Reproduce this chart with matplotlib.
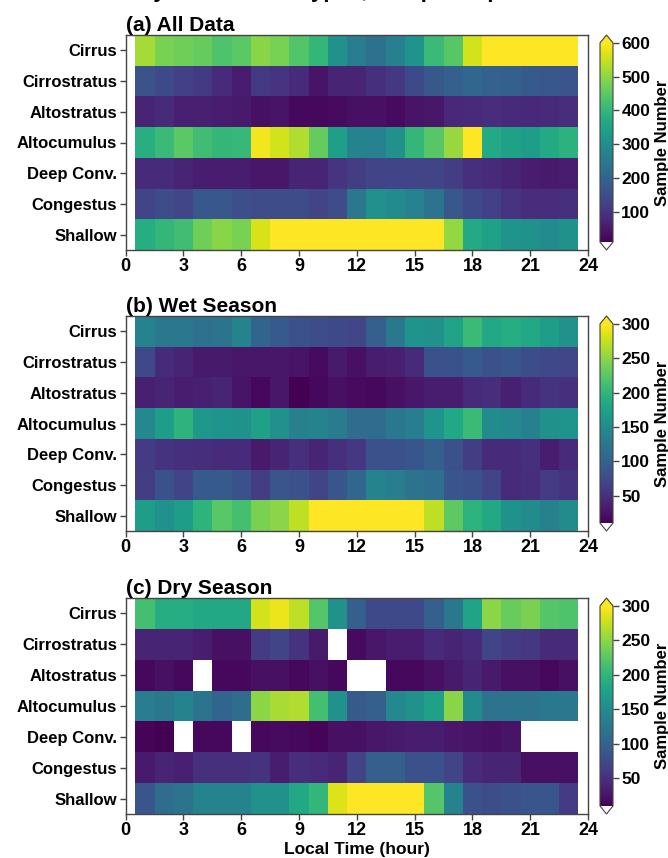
import numpy as np
import matplotlib
matplotlib.use("Agg")
import matplotlib.pyplot as plt
from matplotlib import colors

plt.rcParams['font.family'] = ['Liberation Sans', 'DejaVu Sans']
plt.rcParams['font.weight'] = 'bold'

cloud_types = ["Cirrus", "Cirrostratus", "Altostratus", "Altocumulus",
               "Deep Conv.", "Congestus", "Shallow"]
hours = list(range(1, 24))
xticks = [0, 3, 6, 9, 12, 15, 18, 21, 24]

# (a) All data, hours 1..23 (values < 10 are shown white)
all_data = {
    "Cirrus":       [520, 480, 470, 460, 435, 450, 495, 480, 440, 400, 305, 258, 228, 265, 315, 410, 445, 560, 650, 660, 670, 660, 650],
    "Cirrostratus": [160, 140, 122, 110, 80, 57, 110, 98, 80, 40, 68, 68, 92, 105, 140, 170, 187, 205, 192, 187, 175, 170, 165],
    "Altostratus":  [68, 80, 63, 63, 57, 51, 34, 40, 22, 22, 28, 34, 34, 28, 40, 45, 75, 80, 85, 80, 75, 80, 85],
    "Altocumulus":  [380, 410, 450, 420, 400, 405, 590, 560, 530, 460, 340, 275, 270, 305, 400, 445, 510, 610, 365, 345, 335, 365, 390],
    "Deep Conv.":   [80, 80, 68, 57, 57, 57, 45, 45, 68, 68, 98, 116, 128, 128, 128, 128, 116, 92, 80, 68, 57, 51, 57],
    "Congestus":    [128, 145, 134, 170, 170, 152, 145, 145, 145, 128, 145, 245, 305, 293, 270, 235, 170, 140, 122, 98, 85, 85, 92],
    "Shallow":      [375, 400, 420, 470, 495, 480, 565, 650, 700, 720, 740, 750, 740, 720, 700, 660, 505, 365, 345, 315, 305, 293, 305],
}
wet_season = {
    "Cirrus":       [140, 126, 126, 117, 120, 140, 103, 91, 82, 77, 74, 71, 97, 126, 160, 155, 178, 207, 184, 190, 184, 170, 155],
    "Cirrostratus": [74, 45, 39, 30, 30, 27, 27, 27, 25, 19, 30, 22, 33, 36, 45, 82, 82, 91, 82, 88, 77, 74, 71],
    "Altostratus":  [36, 39, 33, 36, 39, 25, 16, 27, 10, 16, 22, 19, 16, 22, 27, 33, 33, 45, 48, 36, 45, 53, 50],
    "Altocumulus":  [146, 170, 198, 164, 160, 155, 175, 155, 135, 140, 129, 111, 111, 126, 132, 160, 184, 207, 150, 146, 135, 155, 160],
    "Deep Conv.":   [60, 53, 50, 48, 45, 45, 30, 39, 50, 39, 50, 56, 82, 82, 88, 97, 82, 62, 45, 45, 50, 33, 45],
    "Congestus":    [62, 82, 68, 91, 91, 82, 62, 85, 82, 68, 88, 106, 140, 132, 120, 114, 85, 82, 68, 45, 48, 60, 53],
    "Shallow":      [170, 155, 170, 198, 225, 213, 242, 250, 271, 320, 330, 335, 330, 325, 315, 271, 228, 198, 184, 155, 150, 135, 150],
}
dry_season = {
    "Cirrus":       [213, 190, 190, 184, 184, 184, 280, 291, 271, 222, 155, 97, 74, 74, 74, 97, 126, 178, 250, 233, 242, 222, 219],
    "Cirrostratus": [39, 39, 39, 33, 22, 22, 60, 68, 53, 30, 0, 19, 27, 33, 33, 45, 39, 45, 68, 60, 56, 45, 45],
    "Altostratus":  [16, 22, 16, 0, 16, 16, 22, 22, 16, 22, 16, 0, 0, 16, 16, 22, 30, 39, 30, 22, 22, 16, 22],
    "Altocumulus":  [132, 126, 140, 120, 103, 111, 250, 262, 265, 213, 155, 91, 97, 146, 155, 175, 248, 150, 120, 120, 120, 126, 126],
    "Deep Conv.":   [13, 11, 0, 16, 16, 0, 16, 19, 16, 13, 22, 22, 27, 30, 33, 33, 27, 25, 22, 25, 0, 0, 0],
    "Congestus":    [30, 39, 36, 50, 50, 50, 53, 33, 48, 45, 39, 68, 97, 97, 82, 82, 68, 45, 39, 39, 22, 22, 22],
    "Shallow":      [88, 111, 120, 140, 140, 140, 155, 155, 184, 201, 285, 320, 330, 330, 320, 222, 140, 82, 77, 82, 88, 88, 60],
}

panels = [
    ("(a) All Data", all_data, 10, 600, [100, 200, 300, 400, 500, 600]),
    ("(b) Wet Season", wet_season, 10, 300, [50, 100, 150, 200, 250, 300]),
    ("(c) Dry Season", dry_season, 10, 300, [50, 100, 150, 200, 250, 300]),
]

W, H = 668, 858
fig = plt.figure(figsize=(W / 100, H / 100), dpi=100)

fig.text(0.47, 1.0 + 3.5 / H, "Diurnal Cycle of Cloud Types, Sample Population",
         ha='center', va='baseline', fontsize=16, fontweight='bold')

ax_px = [(35, 250), (316, 531), (598, 814)]
left_px, right_px = 125.6, 588
cb_left, cb_right = 600, 613

cmap = plt.get_cmap('viridis').copy()
cmap.set_under('white')
cmap.set_over(cmap(1.0))

x_edges = np.arange(0.5, 24.0, 1.0)
y_edges = np.arange(0, len(cloud_types) + 1)
spine_col = '#444444'

for (title, data, vmin, vmax, cticks), (top, bot) in zip(panels, ax_px):
    ax = fig.add_axes([left_px / W, 1 - bot / H, (right_px - left_px) / W, (bot - top) / H])
    Z = np.array([data[c] for c in cloud_types], dtype=float)
    norm = colors.Normalize(vmin=vmin, vmax=vmax)
    mesh = ax.pcolormesh(x_edges, y_edges, Z, cmap=cmap, norm=norm)
    ax.set_xlim(0, 24)
    ax.set_ylim(len(cloud_types), 0)
    ax.set_xticks(xticks)
    ax.set_xticklabels([str(t) for t in xticks], fontsize=13, fontweight='bold')
    ax.set_yticks(np.arange(len(cloud_types)) + 0.5)
    ax.set_yticklabels(cloud_types, fontsize=12, fontweight='bold')
    ax.tick_params(axis='both', direction='out', length=4, width=1, color=spine_col, pad=2)
    for s in ax.spines.values():
        s.set_color(spine_col)
        s.set_linewidth(1)
    ax.set_title(title, loc='left', fontsize=15, fontweight='bold', pad=3)

    cax = fig.add_axes([cb_left / W, 1 - (bot) / H, (cb_right - cb_left) / W, (bot - top) / H])
    cb = fig.colorbar(mesh, cax=cax, extend='both', extendfrac=0.04)
    cb.set_ticks(cticks)
    cb.ax.tick_params(labelsize=12.5, length=4, width=1, color=spine_col, pad=2)
    for lab in cb.ax.get_yticklabels():
        lab.set_fontweight('bold')
    cb.outline.set_edgecolor(spine_col)
    cb.set_label("Sample Number", fontsize=12, fontweight='bold', labelpad=3)
    if title.startswith("(c)"):
        ax.set_xlabel("Local Time (hour)", fontsize=12.5, fontweight='bold', labelpad=2)

fig.savefig("out.png", dpi=100)
